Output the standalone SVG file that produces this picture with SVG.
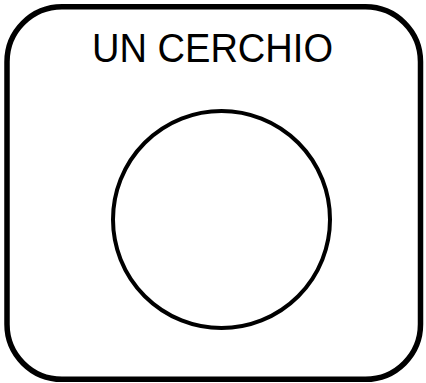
<svg xmlns="http://www.w3.org/2000/svg" width="426" height="383" viewBox="0 0 426 383">
  <style>
    .frame { fill: #ffffff; stroke: #000000; stroke-width: 5.5; }
    .shape { fill: none; stroke: #000000; stroke-width: 4; }
    .title { font-family: "Liberation Sans", Arial, sans-serif; font-size: 40px; fill: #000000; }
  </style>
  <rect width="426" height="383" fill="#ffffff"/>
  <g id="card">
    <rect class="frame" x="7" y="6.8" width="413.5" height="372.5" rx="55" ry="55"/>
  </g>
  <g id="title">
    <text class="title" x="92" y="62" textLength="241" lengthAdjust="spacingAndGlyphs">UN CERCHIO</text>
  </g>
  <g id="circle">
    <circle class="shape" cx="221.5" cy="219.5" r="108.5"/>
  </g>
  <g id="connectors"/>
</svg>
